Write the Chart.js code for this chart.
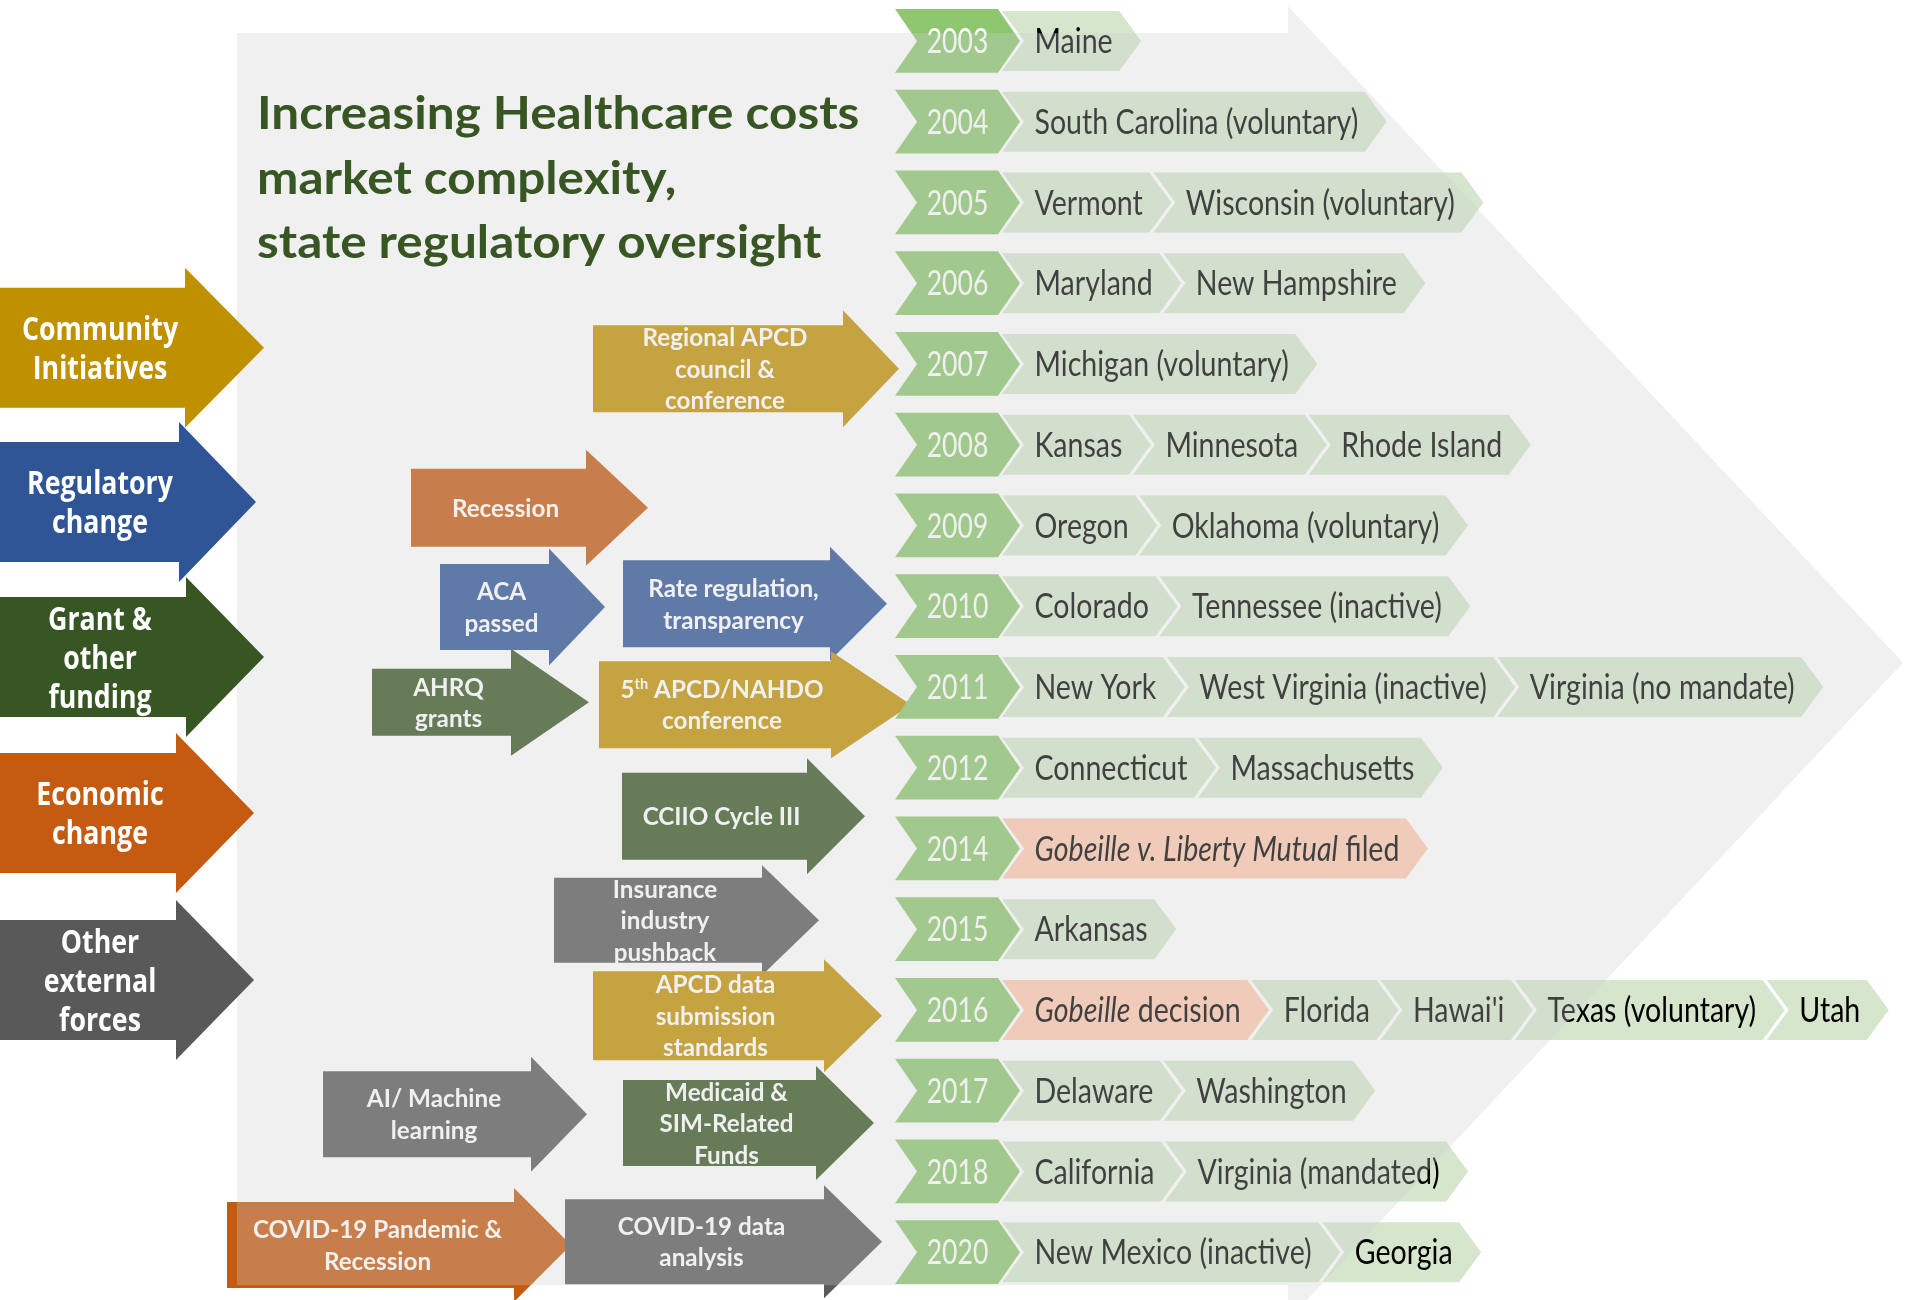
<!DOCTYPE html>
<html>
<head>
<meta charset="utf-8">
<script src="https://cdn.jsdelivr.net/npm/chart.js@4.4.0/dist/chart.umd.min.js"></script>
<style>
  html, body { margin: 0; padding: 0; background: #ffffff; }
  #chart { display: block; }
</style>
</head>
<body>
<canvas id="chart" width="1905" height="1300"></canvas>
<script>
/* globals Chart:false */

// ---- data ----
const years = ['2003', '2004', '2005', '2006', '2007', '2008', '2009', '2010',
  '2011', '2012', '2014', '2015', '2016', '2017', '2018', '2020']

// one list per year; *text* = italic
const states = [
  ['Maine'],
  ['South Carolina (voluntary)'],
  ['Vermont', 'Wisconsin (voluntary)'],
  ['Maryland', 'New Hampshire'],
  ['Michigan (voluntary)'],
  ['Kansas', 'Minnesota', 'Rhode Island'],
  ['Oregon', 'Oklahoma (voluntary)'],
  ['Colorado', 'Tennessee (inactive)'],
  ['New York', 'West Virginia (inactive)', 'Virginia (no mandate)'],
  ['Connecticut', 'Massachusetts'],
  ['*Gobeille v. Liberty Mutual* filed'],
  ['Arkansas'],
  ['*Gobeille* decision', 'Florida', "Hawai'i", 'Texas (voluntary)', 'Utah'],
  ['Delaware', 'Washington'],
  ['California', 'Virginia (mandated)'],
  ['New Mexico (inactive)', 'Georgia']
]
const courtCases = ['*Gobeille v. Liberty Mutual* filed', '*Gobeille* decision']

const title = ['Increasing Healthcare costs', 'market complexity,', 'state regulatory oversight']

const categories = ['Community\nInitiatives', 'Regulatory\nchange', 'Grant &\nother\nfunding',
  'Economic\nchange', 'Other\nexternal\nforces']
const categoryColors = ['#bf9000', '#2f5597', '#375623', '#c55a11', '#595959']

// ^text^ = superscript
const events = [
  'Regional APCD\ncouncil &\nconference',
  'Recession',
  'ACA\npassed',
  'Rate regulation,\ntransparency',
  'AHRQ\ngrants',
  '5^th^ APCD/NAHDO\nconference',
  'CCIIO Cycle III',
  'Insurance\nindustry\npushback',
  'APCD data\nsubmission\nstandards',
  'AI/ Machine\nlearning',
  'Medicaid &\nSIM-Related\nFunds',
  'COVID-19 Pandemic &\nRecession',
  'COVID-19 data\nanalysis'
]
const eventCategory = [0, 3, 1, 1, 2, 0, 2, 4, 0, 4, 2, 3, 4]

// ---- layout (x in px units of the x scale, y in year-row units) ----
const categoryRows = [3.80, 5.71, 7.63, 9.56, 11.63]
const categoryBodyEnd = [185, 179, 186, 176, 176]
const categoryTip = [264, 256, 264, 254, 254]

const eventLayout = [
  { row: 4.06, x0: 593, x1: 843, tip: 899, bh: 87, hh: 117 },
  { row: 5.78, x0: 411, x1: 586, tip: 648, bh: 78, hh: 116 },
  { row: 7.01, x0: 440, x1: 549, tip: 605, bh: 86, hh: 117 },
  { row: 6.97, x0: 623, x1: 830, tip: 887, bh: 87, hh: 114 },
  { row: 8.19, x0: 372, x1: 511, tip: 589, bh: 67, hh: 107 },
  { row: 8.22, x0: 599, x1: 831, tip: 911, bh: 87, hh: 107 },
  { row: 9.60, x0: 622, x1: 807, tip: 865, bh: 87, hh: 116 },
  { row: 10.89, x0: 554, x1: 762, tip: 819, bh: 85, hh: 110 },
  { row: 12.07, x0: 593, x1: 824, tip: 882, bh: 89, hh: 113 },
  { row: 13.29, x0: 323, x1: 531, tip: 587, bh: 86, hh: 115 },
  { row: 13.40, x0: 623, x1: 816, tip: 874, bh: 86, hh: 114 },
  { row: 14.91, x0: 227, x1: 514, tip: 571, bh: 86, hh: 114 },
  { row: 14.87, x0: 565, x1: 824, tip: 882, bh: 85, hh: 113 }
]

const yearSpan = [895, 1020]
const chevronDepth = 22
const chevronPad = 61
const chevronOverlap = 18

const YEAR_COLOR = '#8fc770'
const STATE_COLOR = '#d5e6cd'
const CASE_COLOR = '#ffcab0'
const OVERLAY = 'rgba(206,206,206,0.31)'

const LATO = 'Lato, "Open Sans", sans-serif'
const STATE_FONT = { family: LATO, weight: 'normal', size: 34, sx: 0.84 }
const YEAR_FONT = { family: LATO, weight: 'normal', size: 34, sx: 0.78 }
const EVENT_FONT = { family: LATO, weight: 'bold', size: 25, sx: 0.97, lh: 31.5 }
const TITLE_FONT = { family: LATO, weight: 'bold', size: 45, sx: 1.1 }
const CAT_FONT = { family: '"Open Sans", Lato, sans-serif', weight: 'bold', size: 33, sx: 0.81, lh: 39 }

// ---- text helpers ----
function parseRich (str) {
  const segs = []
  let italic = false
  let sup = false
  let buf = ''
  for (const ch of str) {
    if (ch === '*' || ch === '^') {
      if (buf) segs.push({ t: buf, italic, sup })
      buf = ''
      if (ch === '*') italic = !italic
      else sup = !sup
    } else {
      buf += ch
    }
  }
  if (buf) segs.push({ t: buf, italic, sup })
  return segs
}

function fontFor (st, seg) {
  const size = seg.sup ? Math.round(st.size * 0.6) : st.size
  return (seg.italic ? 'italic ' : '') + st.weight + ' ' + size + 'px ' + st.family
}

function textWidth (ctx, str, st) {
  let w = 0
  for (const seg of parseRich(str)) {
    ctx.font = fontFor(st, seg)
    w += ctx.measureText(seg.t).width
  }
  return w * st.sx
}

function capHeight (st) {
  return st.size * 0.72
}

function drawRich (ctx, str, x, baseline, st, color, align) {
  const w = textWidth(ctx, str, st)
  const left = align === 'left' ? x : x - w / 2
  ctx.save()
  ctx.translate(left, baseline)
  ctx.scale(st.sx, 1)
  ctx.fillStyle = color
  ctx.textAlign = 'left'
  ctx.textBaseline = 'alphabetic'
  let cx = 0
  for (const seg of parseRich(str)) {
    ctx.font = fontFor(st, seg)
    ctx.fillText(seg.t, cx, seg.sup ? -st.size * 0.36 : 0)
    cx += ctx.measureText(seg.t).width
  }
  ctx.restore()
}

function drawLines (ctx, text, cx, cy, st, color) {
  const lines = text.split('\n')
  lines.forEach((line, j) => {
    const lc = cy + (j - (lines.length - 1) / 2) * st.lh
    drawRich(ctx, line, cx, lc + capHeight(st) / 2, st, color)
  })
}

function chevron (ctx, s, e, cy, h, d, color) {
  ctx.beginPath()
  ctx.moveTo(s, cy - h / 2)
  ctx.lineTo(e - d, cy - h / 2)
  ctx.lineTo(e, cy)
  ctx.lineTo(e - d, cy + h / 2)
  ctx.lineTo(s, cy + h / 2)
  ctx.lineTo(s + d, cy)
  ctx.closePath()
  ctx.fillStyle = color
  ctx.fill()
}

function arrow (ctx, x0, x1, tip, cy, bh, hh, color) {
  ctx.beginPath()
  ctx.moveTo(x0, cy - bh / 2)
  ctx.lineTo(x1, cy - bh / 2)
  ctx.lineTo(x1, cy - hh / 2)
  ctx.lineTo(tip, cy)
  ctx.lineTo(x1, cy + hh / 2)
  ctx.lineTo(x1, cy + bh / 2)
  ctx.lineTo(x0, cy + bh / 2)
  ctx.closePath()
  ctx.fillStyle = color
  ctx.fill()
}

// ---- build floating bars (one chevron per state) ----
const mctx = document.createElement('canvas').getContext('2d')
const maxStates = Math.max(...states.map(r => r.length))
const stateSets = []
for (let k = 0; k < maxStates; k++) stateSets.push({ data: [], names: [] })
states.forEach((row, i) => {
  let start = yearSpan[1] - chevronOverlap
  for (let k = 0; k < maxStates; k++) {
    const name = row[k]
    if (!name) {
      stateSets[k].data.push(null)
      stateSets[k].names.push(null)
      continue
    }
    const end = start + textWidth(mctx, name, STATE_FONT) + chevronPad
    stateSets[k].data.push([start, end])
    stateSets[k].names.push(name)
    start = end - chevronOverlap
  }
})

const datasets = [{
  kind: 'year',
  data: years.map(() => yearSpan.slice()),
  names: years,
  backgroundColor: YEAR_COLOR,
  barPercentage: 0.79
}].concat(stateSets.map(s => ({
  kind: 'state',
  data: s.data,
  names: s.names,
  backgroundColor: s.names.map(n => courtCases.includes(n) ? CASE_COLOR : STATE_COLOR),
  barPercentage: 0.743
})))

const infographic = {
  id: 'infographic',
  beforeDatasetsDraw (chart) {
    const ctx = chart.ctx
    const xs = chart.scales.x
    const ys = chart.scales.y
    events.forEach((label, i) => {
      const l = eventLayout[i]
      const cy = ys.getPixelForValue(l.row)
      const x0 = xs.getPixelForValue(l.x0)
      const x1 = xs.getPixelForValue(l.x1)
      arrow(ctx, x0, x1, xs.getPixelForValue(l.tip), cy, l.bh, l.hh, categoryColors[eventCategory[i]])
      drawLines(ctx, label, (x0 + x1) / 2 + 7, cy, EVENT_FONT, '#ffffff')
    })
  },
  beforeDatasetDraw (chart, args) {
    const ctx = chart.ctx
    const ds = chart.data.datasets[args.index]
    args.meta.data.forEach((bar, i) => {
      if (!ds.data[i]) return
      const p = bar.getProps(['x', 'base', 'y', 'height'], true)
      const color = Array.isArray(ds.backgroundColor) ? ds.backgroundColor[i] : ds.backgroundColor
      chevron(ctx, p.base, p.x, p.y, p.height, chevronDepth, color)
      if (ds.kind === 'year') {
        drawRich(ctx, ds.names[i], (p.base + p.x) / 2, p.y + capHeight(YEAR_FONT) / 2, YEAR_FONT, '#ffffff')
      } else {
        drawRich(ctx, ds.names[i], (p.base + p.x) / 2 + 2, p.y + capHeight(STATE_FONT) / 2, STATE_FONT, '#000000')
      }
    })
    return false
  },
  afterDatasetsDraw (chart) {
    const ctx = chart.ctx
    const xs = chart.scales.x
    const ys = chart.scales.y
    const X = v => xs.getPixelForValue(v)
    const Y = r => ys.getPixelForValue(r)

    // translucent grey arrow laid over the timeline
    ctx.beginPath()
    ctx.moveTo(X(237), Y(-0.10))
    ctx.lineTo(X(1288), Y(-0.10))
    ctx.lineTo(X(1288), Y(-0.43))
    ctx.lineTo(X(1903), Y(7.70))
    ctx.lineTo(X(1288), Y(15.84))
    ctx.lineTo(X(1288), Y(15.41))
    ctx.lineTo(X(237), Y(15.41))
    ctx.closePath()
    ctx.fillStyle = OVERLAY
    ctx.fill()

    // title
    title.forEach((line, j) => {
      drawRich(ctx, line, X(257), Y(1.09 + j * 0.8), TITLE_FONT, '#375623', 'left')
    })

    // driver categories
    categories.forEach((label, i) => {
      const cy = Y(categoryRows[i])
      arrow(ctx, X(0), X(categoryBodyEnd[i]), X(categoryTip[i]), cy, 120, 160, categoryColors[i])
      drawLines(ctx, label, X(100), cy, CAT_FONT, '#ffffff')
    })
  }
}

// eslint-disable-next-line no-unused-vars
const myChart = new Chart(document.getElementById('chart'), {
  type: 'bar',
  data: { labels: years, datasets },
  options: {
    indexAxis: 'y',
    responsive: false,
    devicePixelRatio: 1,
    animation: false,
    events: [],
    layout: { padding: { top: 0.6, bottom: 7.4, left: 0, right: 0 } },
    datasets: { bar: { grouped: false, categoryPercentage: 1 } },
    scales: {
      x: { type: 'linear', min: 0, max: 1905, display: false },
      y: { type: 'category', offset: true, display: false }
    },
    plugins: {
      legend: { display: false },
      tooltip: { enabled: false }
    }
  },
  plugins: [infographic]
})
</script>
</body>
</html>
